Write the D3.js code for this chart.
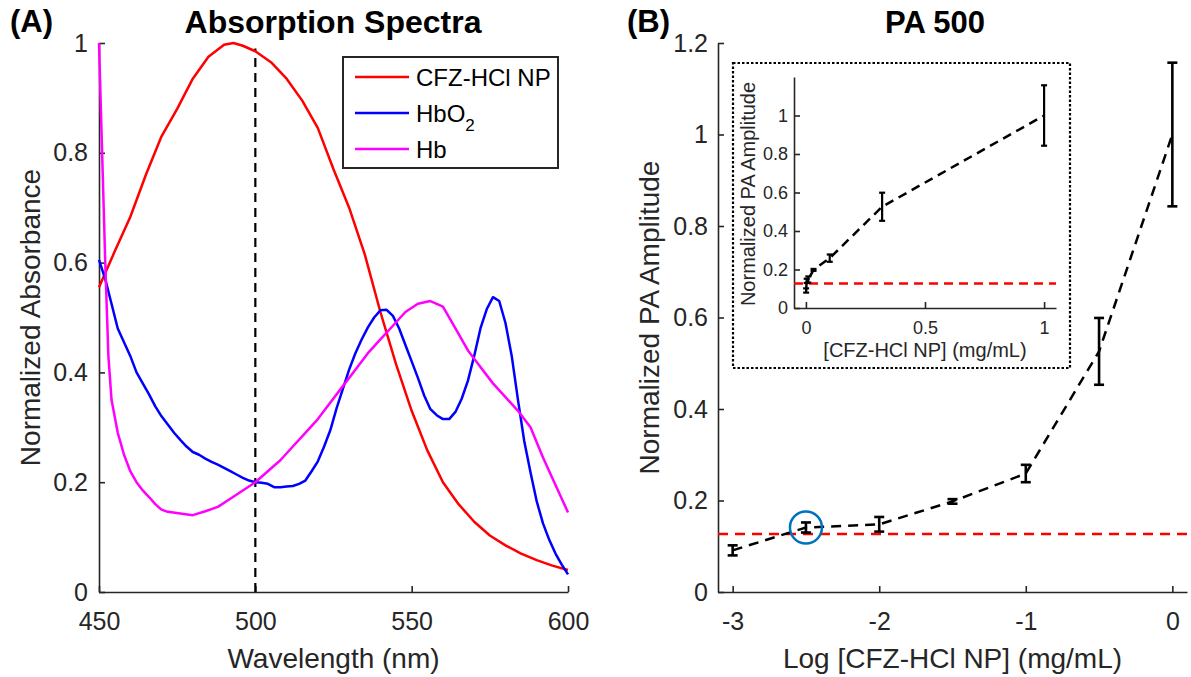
<!DOCTYPE html>
<html>
<head>
<meta charset="utf-8">
<script src="https://cdn.jsdelivr.net/npm/d3@7"></script>
<style>
  body { margin: 0; background: #fff; }
  svg { font-family: "Liberation Sans", Arial, sans-serif; }
  .axis path, .axis line { stroke: #262626; stroke-width: 1.6; }
  .axis text { fill: #262626; }
</style>
</head>
<body>
<svg id="fig" width="1191" height="677"></svg>
<script>
// ---- Panel A: absorption spectra (normalized) ----
const cfzWavelength = [450, 455, 460, 465, 470, 475, 480, 485, 490, 493, 496, 500, 505, 510, 515, 520, 525, 530, 535, 540, 545, 550, 555, 560, 565, 570, 575, 580, 585, 590, 595, 600];
const cfzAbsorbance = [0.555, 0.62, 0.683, 0.76, 0.83, 0.88, 0.935, 0.975, 0.997, 1.0, 0.995, 0.985, 0.965, 0.935, 0.895, 0.845, 0.77, 0.70, 0.615, 0.51, 0.415, 0.33, 0.258, 0.2, 0.16, 0.128, 0.103, 0.085, 0.07, 0.058, 0.048, 0.04];

const hbo2Wavelength = [450, 452, 454, 456, 458, 460, 462, 464, 466, 468, 470, 472, 474, 476, 478, 480, 482, 484, 486, 488, 490, 492, 494, 496, 498, 500, 502, 504, 506, 508, 510, 512, 514, 516, 518, 520, 522, 524, 526, 528, 530, 532, 534, 536, 538, 540, 542, 544, 546, 548, 550, 552, 554, 556, 558, 560, 562, 564, 566, 568, 570, 572, 574, 576, 578, 580, 582, 584, 586, 588, 590, 592, 594, 596, 598, 600];
const hbo2Absorbance = [0.605, 0.57, 0.525, 0.48, 0.455, 0.43, 0.40, 0.38, 0.36, 0.338, 0.32, 0.305, 0.29, 0.277, 0.265, 0.255, 0.25, 0.243, 0.237, 0.232, 0.226, 0.22, 0.214, 0.208, 0.203, 0.2, 0.199, 0.197, 0.191, 0.191, 0.192, 0.193, 0.197, 0.203, 0.22, 0.238, 0.265, 0.295, 0.335, 0.37, 0.405, 0.435, 0.46, 0.482, 0.5, 0.513, 0.514, 0.503, 0.48, 0.45, 0.42, 0.39, 0.358, 0.333, 0.322, 0.315, 0.315, 0.328, 0.352, 0.385, 0.43, 0.48, 0.515, 0.537, 0.53, 0.49, 0.43, 0.35, 0.275, 0.218, 0.165, 0.125, 0.095, 0.07, 0.05, 0.032];

const hbWavelength = [450, 452, 453, 454, 456, 458, 460, 462, 464, 466, 468, 470, 472, 476, 480, 484, 488, 492, 496, 500, 504, 508, 512, 516, 520, 524, 528, 532, 536, 540, 544, 548, 552, 556, 560, 564, 568, 572, 576, 580, 584, 588, 592, 596, 600];
const hbAbsorbance = [1.0, 0.6, 0.43, 0.35, 0.29, 0.25, 0.22, 0.2, 0.185, 0.173, 0.16, 0.15, 0.146, 0.143, 0.14, 0.147, 0.155, 0.17, 0.185, 0.2, 0.22, 0.24, 0.265, 0.29, 0.315, 0.345, 0.375, 0.405, 0.435, 0.46, 0.485, 0.51, 0.525, 0.53, 0.52, 0.48, 0.44, 0.41, 0.38, 0.355, 0.33, 0.3, 0.245, 0.195, 0.145];

const legendLabels = ['CFZ-HCl NP', 'HbO2', 'Hb'];
const seriesColors = ['#ff0000', '#0000ff', '#ff00ff'];
const markerWavelength = 500;
const markerTop = 0.99;
const spectraXTicks = [450, 500, 550, 600];
const spectraYTicks = [0, 0.2, 0.4, 0.6, 0.8, 1];

// ---- Panel B: PA amplitude vs concentration ----
const logConc = [-3, -2.5, -2, -1.5, -1, -0.5, 0];
const conc = [0.001, 0.0032, 0.01, 0.032, 0.1, 0.32, 1];
const paMean = [0.091, 0.141, 0.148, 0.198, 0.259, 0.526, 1.0];
const paErr = [0.011, 0.011, 0.016, 0.005, 0.019, 0.073, 0.157];
const paThreshold = 0.127;
const highlightIndex = 1;
const paXTicks = [-3, -2, -1, 0];
const paYTicks = [0, 0.2, 0.4, 0.6, 0.8, 1, 1.2];
const insetXTicks = [0, 0.5, 1];
const insetYTicks = [0, 0.2, 0.4, 0.6, 0.8, 1];

const svg = d3.select('#fig');
const fmt = d => String(+d.toFixed(2));

// draw left + bottom axes with inward ticks
function drawAxes(x, y, xTicks, yTicks, fontSize, pad) {
  const xAxis = svg.append('g')
    .attr('class', 'axis')
    .attr('transform', `translate(0,${y.range()[0]})`)
    .call(d3.axisBottom(x).tickValues(xTicks).tickFormat(fmt)
      .tickSizeInner(-6).tickSizeOuter(0).tickPadding(pad.x));
  const yAxis = svg.append('g')
    .attr('class', 'axis')
    .attr('transform', `translate(${x.range()[0]},0)`)
    .call(d3.axisLeft(y).tickValues(yTicks).tickFormat(fmt)
      .tickSizeInner(-6).tickSizeOuter(0).tickPadding(pad.y));
  xAxis.selectAll('text').style('font-size', fontSize + 'px');
  yAxis.selectAll('text').style('font-size', fontSize + 'px');
  return { xAxis, yAxis };
}

// ===== Panel A =====
const xA = d3.scaleLinear().domain([450, 600]).range([99, 568]);
const yA = d3.scaleLinear().domain([0, 1]).range([592, 43]);

drawAxes(xA, yA, spectraXTicks, spectraYTicks, 25, { x: 20, y: 11 });

svg.append('line')
  .attr('x1', xA(markerWavelength)).attr('x2', xA(markerWavelength))
  .attr('y1', yA(0)).attr('y2', yA(markerTop))
  .attr('stroke', '#000').attr('stroke-width', 2.2)
  .attr('stroke-dasharray', '9,6');

const spectra = [
  { wl: cfzWavelength, v: cfzAbsorbance },
  { wl: hbo2Wavelength, v: hbo2Absorbance },
  { wl: hbWavelength, v: hbAbsorbance }
];
const lineA = d3.line().x(d => xA(d[0])).y(d => yA(d[1]));

spectra.forEach((s, i) => {
  svg.append('path')
    .datum(d3.zip(s.wl, s.v))
    .attr('fill', 'none')
    .attr('stroke', seriesColors[i])
    .attr('stroke-width', 2.5)
    .attr('stroke-linejoin', 'round')
    .attr('d', lineA);
});

// legend
const leg = svg.append('g').attr('transform', 'translate(343,57)');
leg.append('rect')
  .attr('width', 215).attr('height', 111)
  .attr('fill', '#fff').attr('stroke', '#262626').attr('stroke-width', 2);
legendLabels.forEach((lab, i) => {
  const yy = 20 + i * 36;
  leg.append('line')
    .attr('x1', 12).attr('x2', 66).attr('y1', yy).attr('y2', yy)
    .attr('stroke', seriesColors[i]).attr('stroke-width', 2.5);
  const t = leg.append('text')
    .attr('x', 73).attr('y', yy + 8.5)
    .style('font-size', '24px').attr('fill', '#000');
  if (lab === 'HbO2') {
    t.append('tspan').text('HbO');
    t.append('tspan').attr('dy', 9).style('font-size', '17px').text('2');
  } else {
    t.text(lab);
  }
});

svg.append('text')
  .attr('x', (xA.range()[0] + xA.range()[1]) / 2).attr('y', 668)
  .attr('text-anchor', 'middle').style('font-size', '28px').attr('fill', '#262626')
  .text('Wavelength (nm)');
svg.append('text')
  .attr('transform', `translate(40,${(yA.range()[0] + yA.range()[1]) / 2}) rotate(-90)`)
  .attr('text-anchor', 'middle').style('font-size', '28px').attr('fill', '#262626')
  .text('Normalized Absorbance');
svg.append('text')
  .attr('x', 333).attr('y', 33)
  .attr('text-anchor', 'middle').style('font-size', '32px').style('font-weight', 'bold')
  .text('Absorption Spectra');
svg.append('text')
  .attr('x', 10).attr('y', 32)
  .style('font-size', '31px').style('font-weight', 'bold')
  .text('(A)');

// ===== Panel B =====
const xB = d3.scaleLinear().domain([-3.1, 0.1]).range([718, 1187]);
const yB = d3.scaleLinear().domain([0, 1.2]).range([592, 43]);

drawAxes(xB, yB, paXTicks, paYTicks, 25, { x: 20, y: 10 });

svg.append('line')
  .attr('x1', xB.range()[0]).attr('x2', xB.range()[1])
  .attr('y1', yB(paThreshold)).attr('y2', yB(paThreshold))
  .attr('stroke', '#ff0000').attr('stroke-width', 2.5)
  .attr('stroke-dasharray', '10,7');

const paPoints = d3.zip(logConc, paMean, paErr);
svg.append('path')
  .datum(paPoints)
  .attr('fill', 'none').attr('stroke', '#000').attr('stroke-width', 2.5)
  .attr('stroke-dasharray', '10,7')
  .attr('d', d3.line().x(d => xB(d[0])).y(d => yB(d[1])));

function errorBars(data, x, y, cap, width) {
  const g = svg.append('g').attr('stroke', '#000').attr('stroke-width', width);
  data.forEach(d => {
    const cx = x(d[0]), top = y(d[1] + d[2]), bot = y(d[1] - d[2]);
    g.append('line').attr('x1', cx).attr('x2', cx).attr('y1', top).attr('y2', bot);
    g.append('line').attr('x1', cx - cap).attr('x2', cx + cap).attr('y1', top).attr('y2', top);
    g.append('line').attr('x1', cx - cap).attr('x2', cx + cap).attr('y1', bot).attr('y2', bot);
  });
}
errorBars(paPoints, xB, yB, 5, 2.6);

svg.append('circle')
  .attr('cx', xB(logConc[highlightIndex])).attr('cy', yB(paMean[highlightIndex]))
  .attr('r', 16)
  .attr('fill', 'none').attr('stroke', '#0072bd').attr('stroke-width', 2.5);

svg.append('text')
  .attr('x', (xB.range()[0] + xB.range()[1]) / 2).attr('y', 668)
  .attr('text-anchor', 'middle').style('font-size', '28px').attr('fill', '#262626')
  .text('Log [CFZ-HCl NP] (mg/mL)');
svg.append('text')
  .attr('transform', `translate(659,${(yB.range()[0] + yB.range()[1]) / 2}) rotate(-90)`)
  .attr('text-anchor', 'middle').style('font-size', '28px').attr('fill', '#262626')
  .text('Normalized PA Amplitude');
svg.append('text')
  .attr('x', 935).attr('y', 33)
  .attr('text-anchor', 'middle').style('font-size', '31px').style('font-weight', 'bold')
  .text('PA 500');
svg.append('text')
  .attr('x', 627).attr('y', 32)
  .style('font-size', '31px').style('font-weight', 'bold')
  .text('(B)');

// ===== Inset (linear concentration) =====
svg.append('rect')
  .attr('x', 733).attr('y', 63).attr('width', 337).attr('height', 305)
  .attr('fill', '#fff').attr('stroke', '#000').attr('stroke-width', 2.2)
  .attr('stroke-dasharray', '2.5,2');

const xI = d3.scaleLinear().domain([-0.05, 1.05]).range([794, 1056]);
const yI = d3.scaleLinear().domain([0, 1.2]).range([308, 77]);

drawAxes(xI, yI, insetXTicks, insetYTicks, 18, { x: 13, y: 6 });

svg.append('line')
  .attr('x1', xI.range()[0]).attr('x2', xI.range()[1])
  .attr('y1', yI(paThreshold)).attr('y2', yI(paThreshold))
  .attr('stroke', '#ff0000').attr('stroke-width', 2.5)
  .attr('stroke-dasharray', '9,6');

const insetPoints = d3.zip(conc, paMean, paErr);
svg.append('path')
  .datum(insetPoints)
  .attr('fill', 'none').attr('stroke', '#000').attr('stroke-width', 2.5)
  .attr('stroke-dasharray', '9,6')
  .attr('d', d3.line().x(d => xI(d[0])).y(d => yI(d[1])));
errorBars(insetPoints, xI, yI, 3, 2.2);

svg.append('text')
  .attr('x', 925).attr('y', 357)
  .attr('text-anchor', 'middle').style('font-size', '20px').attr('fill', '#262626')
  .text('[CFZ-HCl NP] (mg/mL)');
svg.append('text')
  .attr('transform', `translate(755,194) rotate(-90)`)
  .attr('text-anchor', 'middle').style('font-size', '20px').attr('fill', '#262626')
  .text('Normalized PA Amplitude');
</script>
</body>
</html>
